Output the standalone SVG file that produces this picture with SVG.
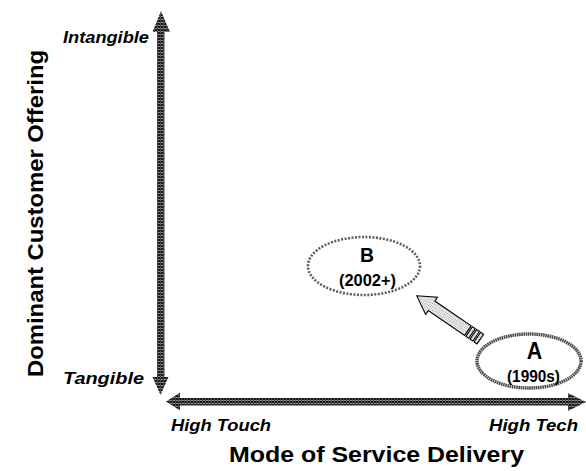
<svg xmlns="http://www.w3.org/2000/svg" width="586" height="471" viewBox="0 0 586 471">
  <defs>
    <!-- dark halftone used by the two axis arrows -->
    <pattern id="axisTone" patternUnits="userSpaceOnUse" width="3" height="3">
      <rect width="3" height="3" fill="#1a1a1a"/>
      <rect y="1" width="3" height="1" fill="#8a8a8a"/>
      <rect x="1" width="1" height="3" fill="#4a4a4a"/>
    </pattern>
    <!-- light dotted tone for the movement arrow -->
    <pattern id="lightTone" patternUnits="userSpaceOnUse" width="2" height="2">
      <rect width="2" height="2" fill="#f0f0f0"/>
      <rect width="1" height="1" fill="#a0a0a0"/>
    </pattern>
    <style>
      .axis { fill: url(#axisTone); stroke: none; }
      .title { font-family: "Liberation Sans", Arial, sans-serif; font-weight: bold; font-size: 22px; fill: #000; }
      .end { font-family: "Liberation Sans", Arial, sans-serif; font-weight: bold; font-style: italic; font-size: 16.5px; fill: #000; }
      .letter { font-family: "Liberation Sans", Arial, sans-serif; font-weight: bold; fill: #000; text-anchor: middle; }
      .era { font-family: "Liberation Sans", Arial, sans-serif; font-weight: bold; font-size: 16px; fill: #000; text-anchor: middle; }
      .ringA { fill: none; stroke: #4a4a4a; stroke-width: 3.4; stroke-dasharray: 1.6 0.6; }
      .ringB { fill: none; stroke: #5e5e5e; stroke-width: 2.6; stroke-dasharray: 2 1.5; }
      .move { fill: url(#lightTone); stroke: #000; stroke-width: 1.1; stroke-linejoin: miter; }
    </style>
  </defs>

  <!-- axes and the movement arrow -->
  <g id="connectors">
    <!-- vertical axis: double-headed, Tangible to Intangible -->
    <path class="axis" d="M161,11 L170,32 L164.5,32 L164.5,377 L168.5,377 L160.5,395 L152.5,377 L157,377 L157,32 L152.5,32 Z"/>
    <!-- horizontal axis: double-headed, High Touch to High Tech -->
    <path class="axis" d="M166,401.5 L180,392.5 L180,398 L568,398 L568,393 L586,402 L568,411 L568,405.5 L180,405.5 L180,410.5 Z"/>
    <!-- striped movement arrow from A toward B -->
    <g transform="translate(416.7,295.7) rotate(214.3)">
      <path class="move" d="M0,0 L-18,10.5 L-18,5.8 L-62,5.8 L-62,-5.8 L-18,-5.8 L-18,-10.5 Z"/>
      <rect class="move" x="-67" y="-5.8" width="3.5" height="11.6"/>
      <rect class="move" x="-72" y="-5.8" width="3.5" height="11.6"/>
      <rect class="move" x="-77" y="-5.8" width="3.5" height="11.6"/>
    </g>
  </g>

  <!-- axis titles -->
  <g id="axis-y-title">
    <text class="title" x="43" y="213.5" text-anchor="middle" textLength="327" lengthAdjust="spacingAndGlyphs" transform="rotate(-90 43 213.5)">Dominant Customer Offering</text>
  </g>
  <g id="axis-x-title">
    <text class="title" x="229" y="462" textLength="295" lengthAdjust="spacingAndGlyphs">Mode of Service Delivery</text>
  </g>

  <!-- axis end labels -->
  <g id="label-intangible">
    <text class="end" x="63" y="43" textLength="86" lengthAdjust="spacingAndGlyphs">Intangible</text>
  </g>
  <g id="label-tangible">
    <text class="end" x="63" y="384" textLength="81" lengthAdjust="spacingAndGlyphs">Tangible</text>
  </g>
  <g id="label-high-touch">
    <text class="end" x="171" y="431" textLength="100" lengthAdjust="spacingAndGlyphs">High Touch</text>
  </g>
  <g id="label-high-tech">
    <text class="end" x="489" y="431" textLength="89" lengthAdjust="spacingAndGlyphs">High Tech</text>
  </g>

  <!-- position A: 1990s -->
  <g id="node-a">
    <ellipse class="ringA" cx="529" cy="361" rx="52" ry="27"/>
    <text class="letter" x="534.5" y="359" font-size="23" textLength="15.5" lengthAdjust="spacingAndGlyphs">A</text>
    <text class="era" x="533.5" y="381.5" textLength="53" lengthAdjust="spacingAndGlyphs">(1990s)</text>
  </g>

  <!-- position B: 2002+ -->
  <g id="node-b">
    <ellipse class="ringB" cx="364" cy="266" rx="56" ry="29"/>
    <text class="letter" x="367" y="262" font-size="21" textLength="14" lengthAdjust="spacingAndGlyphs">B</text>
    <text class="era" x="367.5" y="286" font-size="16.5" textLength="57" lengthAdjust="spacingAndGlyphs">(2002+)</text>
  </g>
</svg>
